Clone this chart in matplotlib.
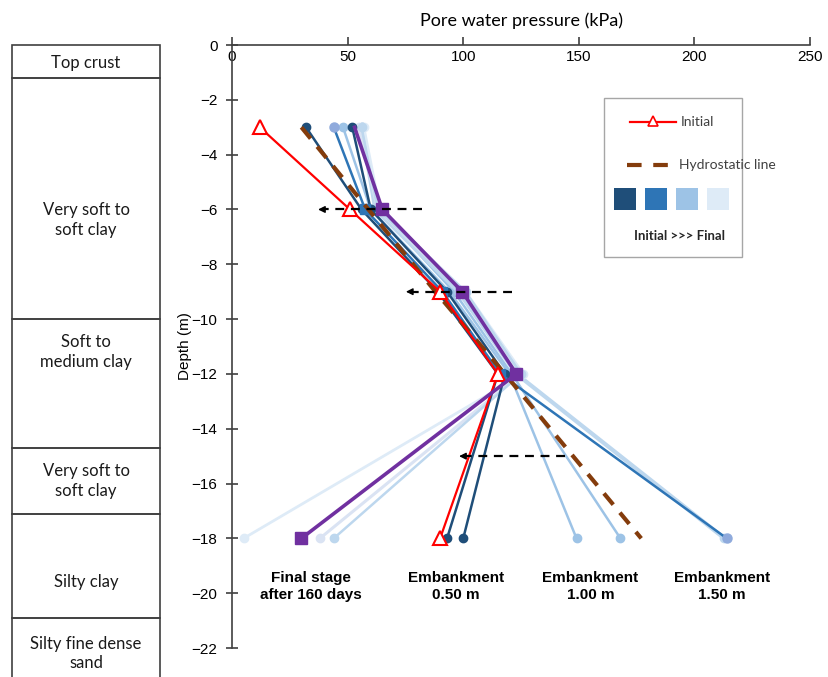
import matplotlib
matplotlib.use("Agg")
import matplotlib.pyplot as plt
from matplotlib.patches import Rectangle
from matplotlib.lines import Line2D

# depths of the piezometers (m)
depth = [-3, -6, -9, -12, -18]

# pore water pressure readings (kPa)
initial = [12, 51, 90, 115, 90]
hydrostatic = [30, 59, 88, 118, 177]

emb050_a = [32, 56, 89, 115, 93]
emb050_b = [52, 60, 93, 118, 100]
emb100_a = [48, 60, 94, 120, 149]
emb100_b = [56, 63, 96, 121, 168]
emb150_a = [44, 57.6, 91, 116, 214]
emb150_b = [56, 62, 98, 123, 213]
final_a = [57, 64, 101, 126, 5]
final_b = [55, 63, 100, 125, 38]
final_c = [56, 63, 101, 125, 44]
final_purple = [53, 65, 99.6, 123, 30]

# soil profile
layer_names = ["Top crust", "Very soft to\nsoft clay", "Soft to\nmedium clay",
               "Very soft to\nsoft clay", "Silty clay", "Silty fine dense\nsand"]
layer_tops = [0, -1.2, -10, -14.7, -17.1, -20.9]
layer_bottoms = [-1.2, -10, -14.7, -17.1, -20.9, -23.6]
layer_text_y = [-0.65, -6.4, -11.2, -15.9, -19.6, -22.2]

# dashed arrows (depth, from, to)
arrow_depth = [-6, -9, -15]
arrow_from = [82, 121, 144]
arrow_to = [36, 74, 97]

stage_labels = ["Final stage\nafter 160 days", "Embankment\n0.50 m", "Embankment\n1.00 m", "Embankment\n1.50 m"]
stage_x = [34, 97, 155, 212]

fig = plt.figure(figsize=(8.29, 6.77), dpi=100)
ax = fig.add_axes([0.2799, 0.0428, 0.6972, 0.8907])
soil = fig.add_axes([0.0145, 0.0428, 0.1785, 0.8907])

# --- soil column
soil.set_xlim(0, 1)
soil.set_ylim(-22, 0)
soil.axis("off")
for name, top, bot, ty in zip(layer_names, layer_tops, layer_bottoms, layer_text_y):
    soil.add_patch(Rectangle((0, bot), 1, top - bot, fill=False, ec="#404040", lw=1.2, clip_on=False))
    soil.text(0.5, ty, name, ha="center", va="center", fontsize=12, family="Lato", color="#1a1a1a",
              linespacing=1.3)

# --- pressure profiles
blue_lines = [
    (emb100_b, "#9DC3E6", 1.8),
    (emb100_a, "#9DC3E6", 1.8),
    (emb150_b, "#BDD7EE", 3.0),
    (final_a, "#DEEBF7", 2.0),
    (final_b, "#DAE3F3", 2.2),
    (final_c, "#BDD7EE", 1.8),
    (emb050_b, "#1F4E79", 1.8),
    (emb050_a, "#1F4E79", 1.8),
]
for vals, col, lw in blue_lines:
    ax.plot(vals, depth, color=col, lw=lw, marker="o", ms=6, mfc=col, mec=col, zorder=3)

ax.plot(emb150_a, depth, color="#2E75B6", lw=1.8, zorder=4)
ax.plot(emb150_a[1:4], depth[1:4], ls="none", marker="s", ms=7.5, color="#2E75B6", zorder=5)
ax.plot([emb150_a[0], emb150_a[4]], [depth[0], depth[4]], ls="none", marker="o", ms=6.5,
        color="#8FAADC", zorder=5)

ax.plot(hydrostatic, depth, color="#843C0C", lw=3, ls=(0, (3.5, 2.5)), zorder=6)
ax.plot(initial, depth, color="#FF0000", lw=1.6, marker="^", ms=10, mfc="white",
        mec="#FF0000", mew=1.5, zorder=6)
ax.plot(final_purple, depth, color="#7030A0", lw=2.6, zorder=7)
ax.plot(final_purple[1:], depth[1:], ls="none", marker="s", ms=9, color="#7030A0", zorder=8)

for d, x0, x1 in zip(arrow_depth, arrow_from, arrow_to):
    ax.plot([x0, x1 + 3], [d, d], color="black", lw=1.6, ls=(0, (4, 3)), zorder=9)
    ax.annotate("", xy=(x1, d), xytext=(x1 + 4, d),
                arrowprops=dict(arrowstyle="-|>", color="black", lw=1, mutation_scale=10), zorder=9)

for lbl, x in zip(stage_labels, stage_x):
    ax.text(x, -19.75, lbl, ha="center", va="center", fontsize=11, fontweight="bold",
            family="Liberation Sans", linespacing=1.3)

# --- axes styling
ax.set_xlim(0, 250)
ax.set_ylim(-22, 0)
ax.set_xticks([0, 50, 100, 150, 200, 250])
ax.set_yticks(range(0, -23, -2))
for s in ["right", "bottom"]:
    ax.spines[s].set_visible(False)
for s in ["left", "top"]:
    ax.spines[s].set_color("#404040")
    ax.spines[s].set_linewidth(1.2)
ax.tick_params(axis="x", top=True, bottom=False, labeltop=True, labelbottom=False,
               direction="out", length=6, width=1.2, color="#404040", pad=-20, labelsize=11)
ax.tick_params(axis="y", direction="inout", length=9, width=1.2, color="#404040", labelsize=11, pad=6)
for t in ax.get_xticklabels() + ax.get_yticklabels():
    t.set_family("Liberation Sans")
ax.xaxis.set_label_position("top")
ax.set_xlabel("Pore water pressure (kPa)", fontsize=13, family="Lato", labelpad=8)
ax.set_ylabel("Depth (m)", fontsize=11, family="Liberation Sans", labelpad=0)

# --- legend drawn by hand
tr = ax.transAxes
ax.add_patch(Rectangle((0.644, 0.648), 0.238, 0.264, transform=tr, fill=True, fc="white",
                       ec="#A6A6A6", lw=1, zorder=10))
ax.add_line(Line2D([0.689, 0.768], [0.872, 0.872], transform=tr, color="#FF0000", lw=1.6, zorder=11))
ax.add_line(Line2D([0.728], [0.874], transform=tr, marker="^", ms=7, mfc="white", mec="#FF0000",
                   mew=1.2, zorder=12))
ax.text(0.776, 0.872, "Initial", transform=tr, va="center", fontsize=10, family="Lato",
        color="#404040", zorder=12)
ax.add_line(Line2D([0.683, 0.768], [0.801, 0.801], transform=tr, color="#843C0C", lw=3,
                   ls=(0, (3.5, 2.8)), zorder=11))
ax.text(0.774, 0.801, "Hydrostatic line", transform=tr, va="center", fontsize=10, family="Lato",
        color="#404040", zorder=12)
for sx, sc in zip([0.661, 0.714, 0.768, 0.822], ["#1F4E79", "#2E75B6", "#9DC3E6", "#DEEBF7"]):
    ax.add_patch(Rectangle((sx, 0.727), 0.038, 0.036, transform=tr, fc=sc, ec="none", zorder=11))
ax.text(0.775, 0.683, "Initial >>> Final", transform=tr, ha="center", va="center", fontsize=9.5,
        fontweight="bold", family="Lato", color="#262626", zorder=12)

fig.savefig("out.png", dpi=100)
